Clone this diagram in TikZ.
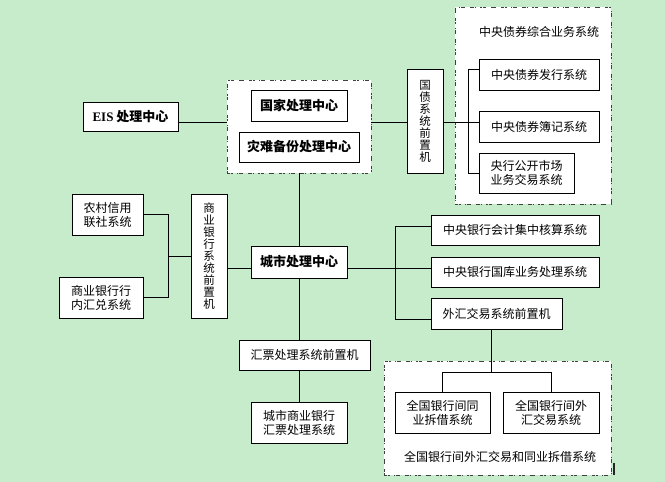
\documentclass[tikz,border=0pt]{standalone}
\usepackage{fontspec}
\setmainfont{Liberation Serif}
\newfontfamily\cjk{Noto Sans CJK SC}
\definecolor{bg}{RGB}{199,236,204}
\begin{document}
\begin{tikzpicture}[x=1pt,y=-1pt,
  box/.style={draw=black,fill=white,line width=0.9pt,inner sep=0pt,align=center,font=\cjk\fontsize{12}{14}\selectfont},
  bbox/.style={box,font=\cjk\bfseries\fontsize{13}{15}\selectfont},
  vbox/.style={box,font=\cjk\fontsize{11.5}{12}\selectfont},
  region/.style={fill=white,draw=black!75,line width=0.6pt,inner sep=0pt,
    dash pattern=on 0.6pt off 0.6pt on 0.6pt off 0.6pt on 0.6pt off 0.6pt on 0.6pt off 0.6pt on 0.6pt off 5pt},
  title/.style={font=\cjk\fontsize{12}{14}\selectfont,inner sep=0pt},
  link/.style={line width=0.9pt}
]
\fill[bg] (0,0) rectangle (665,482);
\useasboundingbox (0,0) rectangle (665,482);

% regions
\node[region,minimum width=144pt,minimum height=93pt] (r1) at (299,126.5) {};
\node[region,minimum width=156pt,minimum height=197pt] (r2) at (533,105.5) {};
\node[region,minimum width=227pt,minimum height=114pt] (r3) at (497.5,418) {};
\node[title] (t2) at (539,32) {中央债券综合业务系统};
\node[title] (t3) at (500,457) {全国银行间外汇交易和同业拆借系统};
\fill[black!85] (613,463) rectangle (615,475);

% boxes
\node[bbox,minimum width=95pt,minimum height=29pt] (eis) at (130.5,116.5) {{\rmfamily EIS} 处理中心};
\node[bbox,minimum width=96pt,minimum height=31pt] (gj) at (299,105.5) {国家处理中心};
\node[bbox,minimum width=120pt,minimum height=30pt] (zn) at (299,147) {灾难备份处理中心};
\node[vbox,minimum width=36pt,minimum height=104pt] (gz) at (425,121) {国\\债\\系\\统\\前\\置\\机};
\node[box,minimum width=120pt,minimum height=31pt] (fx) at (539,74.5) {中央债券发行系统};
\node[box,minimum width=120pt,minimum height=31pt] (bj) at (539,126.5) {中央债券簿记系统};
\node[box,minimum width=95pt,minimum height=40pt] (gk) at (526.5,173) {央行公开市场\\业务交易系统};
\node[box,minimum width=168pt,minimum height=30pt] (kj) at (515,230) {中央银行会计集中核算系统};
\node[box,minimum width=168pt,minimum height=30pt] (gk2) at (515,272) {中央银行国库业务处理系统};
\node[box,minimum width=131pt,minimum height=31pt] (wh) at (496.5,313.5) {外汇交易系统前置机};
\node[bbox,minimum width=96pt,minimum height=32pt] (cs) at (299,262) {城市处理中心};
\node[vbox,minimum width=36pt,minimum height=124pt] (sy) at (209,256) {商\\业\\银\\行\\系\\统\\前\\置\\机};
\node[box,minimum width=71pt,minimum height=41pt] (nc) at (107.5,214.5) {农村信用\\联社系统};
\node[box,minimum width=84pt,minimum height=41pt] (hd) at (101,297.5) {商业银行行\\内汇兑系统};
\node[box,minimum width=131pt,minimum height=30pt] (hp) at (304.5,355) {汇票处理系统前置机};
\node[box,minimum width=96pt,minimum height=41pt] (cb) at (299,422.5) {城市商业银行\\汇票处理系统};
\node[box,minimum width=95pt,minimum height=41pt] (tj) at (442.5,412.5) {全国银行间同\\业拆借系统};
\node[box,minimum width=96pt,minimum height=41pt] (wj) at (551,412.5) {全国银行间外\\汇交易系统};

% connectors
\coordinate (ya) at (0,122);
\draw[link] (eis.east |- ya) -- (r1.west |- ya);
\draw[link] (r1.east |- ya) -- (gz.west |- ya);
\coordinate (b1t) at (468,69);
\coordinate (b1b) at (468,173);
\draw[link] (b1t) -- (b1b);
\draw[link] (b1t) -- (b1t -| fx.west);
\draw[link] (gz.east |- ya) -- (bj.west |- ya);
\draw[link] (b1b) -- (b1b -| gk.west);

\coordinate (cy) at (0,268);
\coordinate (b2t) at (395,226);
\coordinate (b2b) at (395,319);
\draw[link] (b2t) -- (b2b);
\draw[link] (b2t) -- (b2t -| kj.west);
\draw[link] (cs.east |- cy) -- (gk2.west |- cy);
\draw[link] (b2b) -- (b2b -| wh.west);
\draw[link] (sy.east |- cy) -- (cs.west |- cy);

\coordinate (b3) at (168,0);
\draw[link] (nc.east) -| (b3 |- hd.east) -- (hd.east);
\draw[link] (b3 |- sy.west) -- (sy.west);

\draw[link] (cs.north |- r1.south) -- (cs.north);
\draw[link] (cs.south) -- (cs.south |- hp.north);
\draw[link] (cs.south |- hp.south) -- (cb.north);

\coordinate (fj) at (491,372);
\draw[link] (wh.south -| fj) -- (fj);
\draw[link] (tj.north) -- (tj.north |- fj) -- (wj.north |- fj) -- (wj.north);
\end{tikzpicture}
\end{document}
